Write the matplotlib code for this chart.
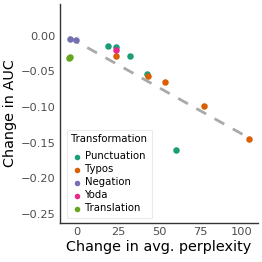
import numpy as np
import matplotlib
matplotlib.use("Agg")
import matplotlib.pyplot as plt

categories = ["Punctuation", "Typos", "Negation", "Yoda", "Translation"]
colors = ["#1B9E77", "#D95F02", "#7570B3", "#E7298A", "#66A61E"]

punct_x = [18.6, 23.4, 31.9, 42.4, 59.8]
punct_y = [-0.0145, -0.0155, -0.0277, -0.053, -0.1606]
typos_x = [23.4, 43.2, 53.3, 77.0, 104.0]
typos_y = [-0.0286, -0.0568, -0.0652, -0.099, -0.1446]
neg_x = [-4.2, -0.8]
neg_y = [-0.0047, -0.0060]
yoda_x = [23.4]
yoda_y = [-0.0197]
trans_x = [-4.8, -4.0]
trans_y = [-0.0306, -0.0290]

series_x = [punct_x, typos_x, neg_x, yoda_x, trans_x]
series_y = [punct_y, typos_y, neg_y, yoda_y, trans_y]

xticks = [0, 25, 50, 75, 100]
yticks = [0.00, -0.05, -0.10, -0.15, -0.20, -0.25]

fig = plt.figure(figsize=(2.62, 2.62), dpi=100)
ax = fig.add_axes([0.229, 0.149, 0.756, 0.836])

all_x = np.concatenate([np.array(v) for v in series_x])
all_y = np.concatenate([np.array(v) for v in series_y])
m, b = np.polyfit(all_x, all_y, 1)
xs = np.array([all_x.min(), all_x.max()])
ax.plot(xs, m * xs + b, color="#A9A9A9", lw=2, ls=(0, (4, 3.5)), zorder=1)

for cat, col, xv, yv in zip(categories, colors, series_x, series_y):
    ax.scatter(xv, yv, s=22, color=col, label=cat, zorder=3, linewidths=0)

ax.set_xlim(-10.3, 109.7)
ax.set_ylim(-0.263, 0.045)
ax.set_xticks(xticks)
ax.set_xticklabels([str(t) for t in xticks])
ax.set_yticks(yticks)
ax.set_yticklabels([f"{t:.2f}".replace("-", "\u2212") for t in yticks])
ax.tick_params(length=0, labelsize=8.2, colors="#4D4D4D", pad=3)
for s in ["top", "right"]:
    ax.spines[s].set_visible(False)
for s in ["left", "bottom"]:
    ax.spines[s].set_color("#333333")
    ax.spines[s].set_linewidth(1.0)

ax.set_xlabel("Change in avg. perplexity", fontsize=10.4, labelpad=2)
ax.set_ylabel("Change in AUC", fontsize=10.4, labelpad=3)

leg = ax.legend(title="Transformation", loc="lower left", bbox_to_anchor=(0.035, 0.023),
                borderaxespad=0, fontsize=7.3, title_fontsize=7.3, frameon=True,
                fancybox=False, edgecolor="#E5E5E5", handletextpad=0.35,
                labelspacing=0.3, handlelength=1.0, borderpad=0.45,
                markerscale=0.85)
leg._legend_box.align = "left"
leg._legend_box.sep = 5
leg.get_frame().set_linewidth(0.8)

fig.savefig("out.png", dpi=100)
